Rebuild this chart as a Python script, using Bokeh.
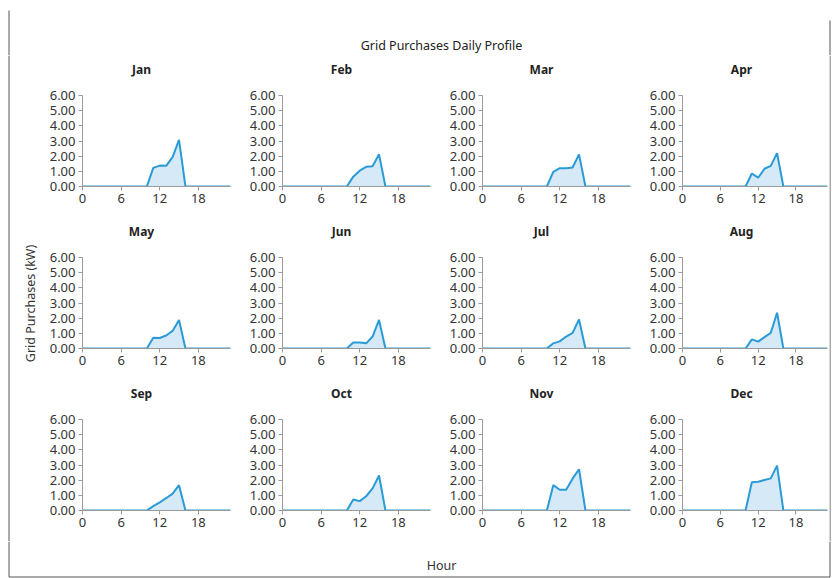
import math
from bokeh.plotting import figure
from bokeh.layouts import column, row
from bokeh.models import Range1d, FixedTicker, NumeralTickFormatter, ColumnDataSource
from bokeh.core.properties import value
from bokeh.embed import file_html
from bokeh.resources import INLINE

FONT = "Noto Sans"

hours = [0, 1, 2, 3, 4, 5, 6, 7, 8, 9, 10, 11, 12, 13, 14, 15, 16, 17, 18, 19, 20, 21, 22, 23]
months = ["Jan", "Feb", "Mar", "Apr", "May", "Jun", "Jul", "Aug", "Sep", "Oct", "Nov", "Dec"]

jan = [0, 0, 0, 0, 0, 0, 0, 0, 0, 0, 0, 1.23, 1.38, 1.36, 1.94, 3.07, 0, 0, 0, 0, 0, 0, 0, 0]
feb = [0, 0, 0, 0, 0, 0, 0, 0, 0, 0, 0, 0.65, 1.04, 1.30, 1.34, 2.12, 0, 0, 0, 0, 0, 0, 0, 0]
mar = [0, 0, 0, 0, 0, 0, 0, 0, 0, 0, 0, 0.97, 1.21, 1.21, 1.25, 2.12, 0, 0, 0, 0, 0, 0, 0, 0]
apr = [0, 0, 0, 0, 0, 0, 0, 0, 0, 0, 0, 0.86, 0.58, 1.17, 1.36, 2.20, 0, 0, 0, 0, 0, 0, 0, 0]
may = [0, 0, 0, 0, 0, 0, 0, 0, 0, 0, 0, 0.71, 0.69, 0.86, 1.16, 1.88, 0, 0, 0, 0, 0, 0, 0, 0]
jun = [0, 0, 0, 0, 0, 0, 0, 0, 0, 0, 0, 0.39, 0.39, 0.34, 0.79, 1.88, 0, 0, 0, 0, 0, 0, 0, 0]
jul = [0, 0, 0, 0, 0, 0, 0, 0, 0, 0, 0, 0.34, 0.47, 0.79, 1.03, 1.91, 0, 0, 0, 0, 0, 0, 0, 0]
aug = [0, 0, 0, 0, 0, 0, 0, 0, 0, 0, 0, 0.60, 0.45, 0.75, 1.03, 2.36, 0, 0, 0, 0, 0, 0, 0, 0]
sep = [0, 0, 0, 0, 0, 0, 0, 0, 0, 0, 0, 0.29, 0.54, 0.81, 1.11, 1.67, 0, 0, 0, 0, 0, 0, 0, 0]
oct_ = [0, 0, 0, 0, 0, 0, 0, 0, 0, 0, 0, 0.73, 0.62, 0.94, 1.46, 2.31, 0, 0, 0, 0, 0, 0, 0, 0]
nov = [0, 0, 0, 0, 0, 0, 0, 0, 0, 0, 0, 1.67, 1.37, 1.37, 2.10, 2.72, 0, 0, 0, 0, 0, 0, 0, 0]
dec = [0, 0, 0, 0, 0, 0, 0, 0, 0, 0, 0, 1.86, 1.90, 2.01, 2.12, 2.96, 0, 0, 0, 0, 0, 0, 0, 0]

series = [jan, feb, mar, apr, may, jun, jul, aug, sep, oct_, nov, dec]
y_ticks = [0, 1, 2, 3, 4, 5, 6]
x_ticks = [0, 6, 12, 18]

chart_title = "Grid Purchases Daily Profile"
y_label = "Grid Purchases (kW)"
x_label = "Hour"

LINE = "#2a9bd6"
FILL = "#d5eaf6"
AXIS = "#9a9a9a"
TXT = "#333333"
BORDER = "#555555"


def blank(w, h):
    f = figure(width=w, height=h, x_range=Range1d(0, w), y_range=Range1d(0, h),
               x_axis_type=None, y_axis_type=None, output_backend="svg",
               toolbar_location=None, min_border=0)
    f.grid.visible = False
    f.outline_line_color = None
    return f


def panel(vals, w, right):
    p = figure(width=w, height=132, x_range=Range1d(0, 23), y_range=Range1d(0, 6),
               output_backend="svg", toolbar_location=None,
               min_border_left=37, min_border_right=right,
               min_border_top=10, min_border_bottom=31)
    p.grid.visible = False
    p.outline_line_color = None
    src = ColumnDataSource(dict(h=hours, v=vals, z=[0] * len(hours)))
    p.varea(x="h", y1="z", y2="v", source=src, fill_color=FILL)
    p.line(x="h", y="v", source=src, line_color=LINE, line_width=2)
    p.yaxis.ticker = FixedTicker(ticks=y_ticks)
    p.yaxis.formatter = NumeralTickFormatter(format="0.00")
    p.xaxis.ticker = FixedTicker(ticks=x_ticks)
    for ax in (p.xaxis, p.yaxis):
        ax.axis_line_color = AXIS
        ax.major_tick_line_color = AXIS
        ax.minor_tick_line_color = None
        ax.major_tick_out = 4
        ax.major_tick_in = 0
        ax.major_label_text_font = FONT
        ax.major_label_text_font_size = "13px"
        ax.major_label_text_color = TXT
        ax.major_label_standoff = 3
    return p


# header
header = blank(832, 55)
header.text(x=[441], y=[10], text=[chart_title], text_font=value(FONT),
            text_font_size="12.5px", text_color="#222222",
            text_align="center", text_baseline="middle")
header.segment(x0=[8.5], y0=[0], x1=[8.5], y1=[45], line_color=BORDER, line_width=1)
header.segment(x0=[829.5], y0=[0], x1=[829.5], y1=[35], line_color=BORDER, line_width=1)

# left label
left = blank(45, 486)
left.text(x=[30], y=[238], text=[y_label], text_font=value(FONT), angle=math.pi / 2,
          text_font_size="12.5px", text_color=TXT, text_align="center", text_baseline="middle")
left.segment(x0=[8.5], y0=[0], x1=[8.5], y1=[486], line_color=BORDER, line_width=1)

# right border strip
right_strip = blank(3, 486)
right_strip.segment(x0=[0.5], y0=[0], x1=[0.5], y1=[486], line_color=BORDER, line_width=1)

blocks = []
for r in range(3):
    names = months[r * 4:(r + 1) * 4]
    strip = blank(784, 30)
    strip.text(x=[c * 200 + 96 for c in range(4)], y=[16] * 4, text=names,
               text_font=value(FONT), text_font_size="12px", text_font_style="bold",
               text_color="#222222", text_align="center", text_baseline="middle")
    figs = []
    for c in range(4):
        i = r * 4 + c
        if c < 3:
            figs.append(panel(series[i], 200, 15))
        else:
            figs.append(panel(series[i], 184, 2))
    blocks.append(strip)
    blocks.append(row(*figs))
grid = column(*blocks)

footer = blank(832, 37)
footer.text(x=[441], y=[13], text=[x_label], text_font=value(FONT),
            text_font_size="12.5px", text_color=TXT, text_align="center", text_baseline="middle")
footer.segment(x0=[8.5], y0=[1.5], x1=[8.5], y1=[37], line_color=BORDER, line_width=1)
footer.segment(x0=[8.5], y0=[1.5], x1=[829.5], y1=[1.5], line_color=BORDER, line_width=1)
footer.segment(x0=[829.5], y0=[1.5], x1=[829.5], y1=[37], line_color=BORDER, line_width=1)

layout = column(header, row(left, grid, right_strip), footer)

open("out.html", "w").write(file_html(layout, INLINE))
